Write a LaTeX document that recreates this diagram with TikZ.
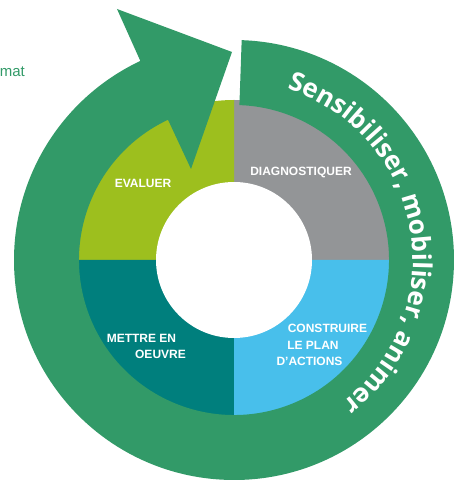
\documentclass[tikz,border=0pt]{standalone}
\usepackage{fontspec}
\usetikzlibrary{decorations.text}
\newfontfamily\lblfont{Liberation Sans}
\newfontfamily\sensfont{Open Sans}
\definecolor{ringgreen}{RGB}{50,154,104}
\definecolor{qyellow}{RGB}{157,191,30}
\definecolor{qgray}{RGB}{147,149,151}
\definecolor{qblue}{RGB}{72,191,235}
\definecolor{qteal}{RGB}{0,127,125}
\tikzset{
  qlabel/.style={text=white, font=\lblfont\bfseries\fontsize{12}{12}\selectfont, inner sep=0pt, anchor=center},
}
\begin{document}
\begin{tikzpicture}[x=1pt,y=1pt]
\useasboundingbox (-234,-221) rectangle (220,260);
% quadrants
\fill[qgray]   (0,0) -- (0:160) arc[start angle=0, end angle=90, radius=160] -- cycle;
\fill[qyellow] (0,0) -- (90:160) arc[start angle=90, end angle=180, radius=160] -- cycle;
\fill[qteal]   (0,0) -- (180:160) arc[start angle=180, end angle=270, radius=160] -- cycle;
\fill[qblue]   (0,0) -- (270:160) arc[start angle=270, end angle=360, radius=160] -- cycle;
\fill[white] (0,0) circle[radius=78];
% ring arrow (one outline)
\fill[ringgreen] (88:220) arc[start angle=88, end angle=-244.8, radius=220]
  -- (-117,251) -- (-2,208) -- (-43,91)
  -- (-244.8:155) arc[start angle=-244.8, end angle=88, radius=155] -- cycle;
% curved text
\path[decorate, decoration={text along path, text align=center, text color=white,
  text={|\sensfont\bfseries\fontsize{26}{26}\selectfont|Sensibiliser, mobiliser, animer}}]
  (100:179) arc[start angle=100, end angle=-80, radius=179];
% labels
\node[qlabel] (diag) at (67,88) {DIAGNOSTIQUER};
\node[qlabel] (eval) at (-91,77) {EVALUER};
\node[qlabel] (mettre1) at (-92.5,-78) {METTRE EN};
\node[qlabel] (mettre2) at (-73.5,-94) {OEUVRE};
\node[qlabel] (constr1) at (93.5,-68) {CONSTRUIRE};
\node[qlabel] (constr2) at (79,-85) {LE PLAN};
\node[qlabel] (constr3) at (75.5,-101) {D’ACTIONS};
\node[text=ringgreen, font=\lblfont\fontsize{15}{15}\selectfont, inner sep=0pt, anchor=base east] (mat) at (-209,183) {mat};
\end{tikzpicture}
\end{document}
